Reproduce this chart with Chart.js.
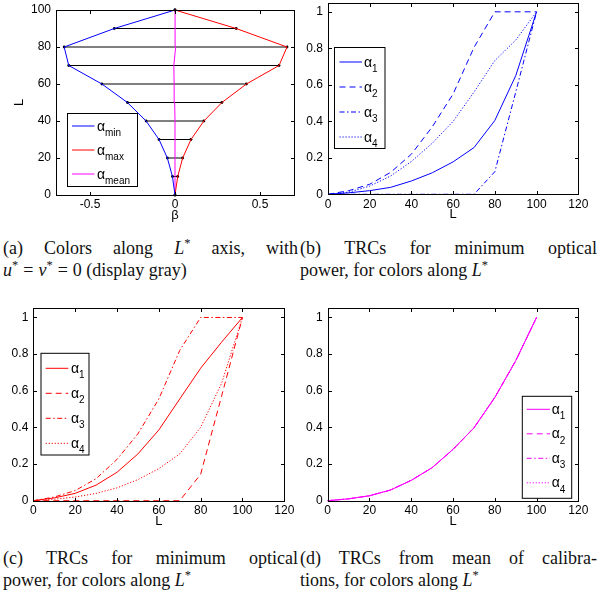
<!DOCTYPE html>
<html>
<head>
<meta charset="utf-8">
<title>TRC figure</title>
<script src="https://cdn.jsdelivr.net/npm/chart.js@4.4.1/dist/chart.umd.min.js"></script>
<style>
  html, body { margin: 0; padding: 0; background: #fff; }
  #page { position: relative; width: 600px; height: 594px; overflow: hidden; }
  .panel { position: absolute; width: 300px; height: 230px; }
  .caption { position: absolute; font-family: "Liberation Serif", "Times New Roman", serif; font-size: 18px; line-height: 22px; color: #111; white-space: nowrap; }
  .caption .first { text-align: justify; text-align-last: justify; white-space: normal; }
  .caption sup { font-size: 12.5px; position: relative; top: -7px; vertical-align: baseline; line-height: 0; }
  .caption .rel { margin: 0 5px; }
</style>
</head>
<body>
<div id="page">
  <div class="panel" style="left:0;top:0"><canvas id="chartA" width="300" height="230"></canvas></div>
  <div class="panel" style="left:300px;top:0"><canvas id="chartB" width="300" height="230"></canvas></div>
  <div class="panel" style="left:0;top:300px"><canvas id="chartC" width="300" height="230"></canvas></div>
  <div class="panel" style="left:300px;top:300px"><canvas id="chartD" width="300" height="230"></canvas></div>

  <div class="caption" style="left:3px;top:237px;width:295px">
    <div class="first">(a) Colors along <i>L</i><sup>*</sup> axis, with</div>
    <div><i>u</i><sup>*</sup><span class="rel">=</span><i>v</i><sup>*</sup><span class="rel">=</span>0 (display gray)</div>
  </div>
  <div class="caption" style="left:300px;top:237px;width:297px">
    <div class="first">(b) TRCs for minimum optical</div>
    <div>power, for colors along <i>L</i><sup>*</sup></div>
  </div>
  <div class="caption" style="left:3px;top:547px;width:295px">
    <div class="first">(c) TRCs for minimum optical</div>
    <div>power, for colors along <i>L</i><sup>*</sup></div>
  </div>
  <div class="caption" style="left:300px;top:547px;width:297px">
    <div class="first">(d) TRCs from mean of calibra-</div>
    <div>tions, for colors along <i>L</i><sup>*</sup></div>
  </div>
</div>

<script>
// lightness samples shared by all panels
const lValues = [0, 10, 20, 30, 40, 50, 60, 70, 80, 90, 100];

// (a) beta range along the L* axis
const betaMin = [0, -0.015, -0.045, -0.094, -0.17, -0.28, -0.43, -0.625, -0.652, -0.357, 0];
const betaMax = [0, 0.016, 0.045, 0.094, 0.17, 0.276, 0.42, 0.612, 0.659, 0.36, 0];
const betaMean = [0, 0, 0, 0, 0, -0.002, -0.005, -0.007, 0.004, 0.001, 0];

// (b) minimum optical power, first set
const minPowerB1 = [0, 0.008, 0.02, 0.038, 0.073, 0.118, 0.178, 0.256, 0.405, 0.65, 1];
const minPowerB2 = [0, 0.02, 0.055, 0.12, 0.22, 0.37, 0.55, 0.805, 1, 1, 1];
const minPowerB3 = [0, 0, 0, 0, 0, 0, 0, 0, 0.124, 0.56, 1];
const minPowerB4 = [0, 0.012, 0.045, 0.1, 0.18, 0.28, 0.4, 0.56, 0.733, 0.845, 1];

// (c) minimum optical power, second set
const minPowerC1 = [0, 0.015, 0.04, 0.085, 0.155, 0.255, 0.386, 0.555, 0.723, 0.865, 1];
const minPowerC2 = [0, 0, 0, 0, 0, 0, 0, 0, 0.144, 0.57, 1];
const minPowerC3 = [0, 0.02, 0.055, 0.12, 0.225, 0.365, 0.555, 0.82, 1, 1, 1];
const minPowerC4 = [0, 0.008, 0.02, 0.04, 0.07, 0.115, 0.175, 0.255, 0.4, 0.64, 1];

// (d) mean of calibrations (all four channels coincide)
const meanPower1 = [0, 0.01, 0.027, 0.058, 0.111, 0.18, 0.28, 0.397, 0.563, 0.763, 1];
const meanPower2 = [0, 0.01, 0.027, 0.058, 0.111, 0.18, 0.28, 0.397, 0.563, 0.763, 1];
const meanPower3 = [0, 0.01, 0.027, 0.058, 0.111, 0.18, 0.28, 0.397, 0.563, 0.763, 1];
const meanPower4 = [0, 0.01, 0.027, 0.058, 0.111, 0.18, 0.28, 0.397, 0.563, 0.763, 1];

// ticks
const betaTicks = [-0.5, 0, 0.5];
const betaTickLabels = ['-0.5', '0', '0.5'];
const lTicksA = [0, 20, 40, 60, 80, 100];
const lTicks = [0, 20, 40, 60, 80, 100, 120];
const powerTicks = [0, 0.2, 0.4, 0.6, 0.8, 1];
const powerTickLabels = ['0', '0.2', '0.4', '0.6', '0.8', '1'];

const rangeSubs = ['min', 'max', 'mean'];
const channelSubs = ['1', '2', '3', '4'];

const SANS = '"Liberation Sans", Arial, Helvetica, sans-serif';
const BLUE = '#0000ff', RED = '#ff0000', MAGENTA = '#ff00ff';
const SOLID = [], DASHED = [6, 4], DASHDOT = [5, 2.5, 1.5, 2.5], DOTTED = [1.2, 1.8];
const lineStyles = [SOLID, DASHED, DASHDOT, DOTTED];

function toPoints(ys) {
    return lValues.map((l, i) => ({ x: l, y: ys[i] }));
}

function drawLegend(ctx, lg) {
    ctx.fillStyle = '#fff';
    ctx.fillRect(lg.x, lg.y, lg.w, lg.h);
    ctx.strokeStyle = '#000';
    ctx.lineWidth = 1;
    ctx.setLineDash([]);
    ctx.strokeRect(lg.x, lg.y, lg.w, lg.h);
    lg.items.forEach((it, i) => {
        const y = lg.y + lg.first + i * lg.step;
        ctx.strokeStyle = it.color;
        ctx.setLineDash(it.dash);
        ctx.beginPath();
        ctx.moveTo(lg.x + lg.lineFrom, y);
        ctx.lineTo(lg.x + lg.lineTo, y);
        ctx.stroke();
        ctx.setLineDash([]);
        ctx.fillStyle = '#000';
        ctx.textAlign = 'left';
        ctx.textBaseline = 'alphabetic';
        ctx.font = '14px ' + SANS;
        ctx.fillText('\u03b1', lg.x + lg.textAt, y + 4.5);
        ctx.font = '10px ' + SANS;
        ctx.fillText(it.sub, lg.x + lg.textAt + 8, y + 10);
    });
}

// matlab style box with inward ticks on all sides
function framePlugin(cfg) {
    return {
        id: 'frame',
        afterDatasetsDraw(chart) {
            const ctx = chart.ctx;
            const a = chart.chartArea;
            const xs = chart.scales.x, ys = chart.scales.y;
            const left = Math.round(a.left) + 0.5, right = Math.round(a.right) + 0.5;
            const top = Math.round(a.top) + 0.5, bottom = Math.round(a.bottom) + 0.5;
            const tl = 3.5;
            ctx.save();
            ctx.strokeStyle = '#000';
            ctx.lineWidth = 1;
            ctx.setLineDash([]);
            ctx.strokeRect(left, top, right - left, bottom - top);
            ctx.beginPath();
            cfg.xTicks.forEach(v => {
                const px = Math.round(xs.getPixelForValue(v)) + 0.5;
                ctx.moveTo(px, bottom); ctx.lineTo(px, bottom - tl);
                ctx.moveTo(px, top); ctx.lineTo(px, top + tl);
            });
            cfg.yTicks.forEach(v => {
                const py = Math.round(ys.getPixelForValue(v)) + 0.5;
                ctx.moveTo(left, py); ctx.lineTo(left + tl, py);
                ctx.moveTo(right, py); ctx.lineTo(right - tl, py);
            });
            ctx.stroke();

            ctx.fillStyle = '#000';
            ctx.font = '12px ' + SANS;
            ctx.textAlign = 'center';
            ctx.textBaseline = 'top';
            cfg.xTicks.forEach((v, i) => ctx.fillText(cfg.xLabels[i], xs.getPixelForValue(v), a.bottom + 4));
            ctx.textAlign = 'right';
            ctx.textBaseline = 'middle';
            cfg.yTicks.forEach((v, i) => ctx.fillText(cfg.yLabels[i], a.left - 5, ys.getPixelForValue(v)));

            ctx.font = '13px ' + SANS;
            ctx.textAlign = 'center';
            ctx.fillText(cfg.xTitle, (a.left + a.right) / 2, a.bottom + 20.5);
            if (cfg.yTitle) {
                ctx.save();
                ctx.translate(19, (a.top + a.bottom) / 2);
                ctx.rotate(-Math.PI / 2);
                ctx.fillText(cfg.yTitle, 0, 0);
                ctx.restore();
            }
            drawLegend(ctx, cfg.legend);
            ctx.restore();
        }
    };
}

function lineSet(data, color, dash) {
    return {
        data: data,
        borderColor: color,
        borderWidth: 1,
        borderDash: dash,
        pointRadius: 0,
        fill: false,
        tension: 0,
        clip: false,
        order: 1
    };
}

function makeChart(id, datasets, padding, xRange, yRange, frame) {
    return new Chart(document.getElementById(id), {
        type: 'line',
        data: { datasets: datasets },
        options: {
            responsive: false,
            animation: false,
            devicePixelRatio: 1,
            layout: { padding: padding },
            plugins: { legend: { display: false }, tooltip: { enabled: false } },
            scales: {
                x: { type: 'linear', min: xRange[0], max: xRange[1], display: false },
                y: { type: 'linear', min: yRange[0], max: yRange[1], display: false }
            }
        },
        plugins: [framePlugin(frame)]
    });
}

document.addEventListener('DOMContentLoaded', function () {
    // (a) rungs between min and max, then the three curves on top
    const rungs = lValues.map((l, i) => ({
        data: [{ x: betaMin[i], y: l }, { x: betaMax[i], y: l }],
        borderColor: '#000',
        borderWidth: 1,
        pointRadius: 1.4,
        pointBorderWidth: 0,
        pointBackgroundColor: '#000',
        clip: false,
        order: 5
    }));
    const curvesA = [
        lineSet(betaMin.map((b, i) => ({ x: b, y: lValues[i] })), BLUE, SOLID),
        lineSet(betaMax.map((b, i) => ({ x: b, y: lValues[i] })), RED, SOLID),
        lineSet(betaMean.map((b, i) => ({ x: b, y: lValues[i] })), MAGENTA, SOLID)
    ];
    makeChart('chartA', curvesA.concat(rungs),
        { left: 56, top: 10, right: 6, bottom: 35 }, [-0.7, 0.7], [0, 100], {
            xTicks: betaTicks, xLabels: betaTickLabels,
            yTicks: lTicksA, yLabels: lTicksA.map(String),
            xTitle: '\u03b2', yTitle: 'L',
            legend: {
                x: 67.5, y: 113.5, w: 70, h: 73, first: 12.5, step: 24,
                lineFrom: 4.5, lineTo: 27, textAt: 29.5,
                items: [BLUE, RED, MAGENTA].map((c, i) => ({ color: c, dash: SOLID, sub: rangeSubs[i] }))
            }
        });

    // (b)
    const setB = [minPowerB1, minPowerB2, minPowerB3, minPowerB4];
    makeChart('chartB', setB.map((s, i) => lineSet(toPoints(s), BLUE, lineStyles[i])),
        { left: 28, top: 2.7, right: 21.7, bottom: 35.7 }, [0, 120], [0, 1.05], {
            xTicks: lTicks, xLabels: lTicks.map(String),
            yTicks: powerTicks, yLabels: powerTickLabels,
            xTitle: 'L',
            legend: {
                x: 34.5, y: 47.5, w: 50.5, h: 101, first: 14.5, step: 25,
                lineFrom: 5, lineTo: 27.5, textAt: 29.5,
                items: channelSubs.map((s, i) => ({ color: BLUE, dash: lineStyles[i], sub: s }))
            }
        });

    // (c)
    const setC = [minPowerC1, minPowerC2, minPowerC3, minPowerC4];
    makeChart('chartC', setC.map((s, i) => lineSet(toPoints(s), RED, lineStyles[i])),
        { left: 33.3, top: 8.3, right: 15.7, bottom: 29.3 }, [0, 120], [0, 1.05], {
            xTicks: lTicks, xLabels: lTicks.map(String),
            yTicks: powerTicks, yLabels: powerTickLabels,
            xTitle: 'L',
            legend: {
                x: 41, y: 53.3, w: 48, h: 101.7, first: 15, step: 25,
                lineFrom: 4.7, lineTo: 27.3, textAt: 30,
                items: channelSubs.map((s, i) => ({ color: RED, dash: lineStyles[i], sub: s }))
            }
        });

    // (d)
    const setD = [meanPower1, meanPower2, meanPower3, meanPower4];
    makeChart('chartD', setD.map((s, i) => lineSet(toPoints(s), MAGENTA, lineStyles[i])),
        { left: 27.7, top: 8.3, right: 21.7, bottom: 29.3 }, [0, 120], [0, 1.05], {
            xTicks: lTicks, xLabels: lTicks.map(String),
            yTicks: powerTicks, yLabels: powerTickLabels,
            xTitle: 'L',
            legend: {
                x: 222.3, y: 96.3, w: 49.4, h: 102, first: 13, step: 24.5,
                lineFrom: 4.4, lineTo: 27.7, textAt: 29.4,
                items: channelSubs.map((s, i) => ({ color: MAGENTA, dash: lineStyles[i], sub: s }))
            }
        });
});
</script>
</body>
</html>
